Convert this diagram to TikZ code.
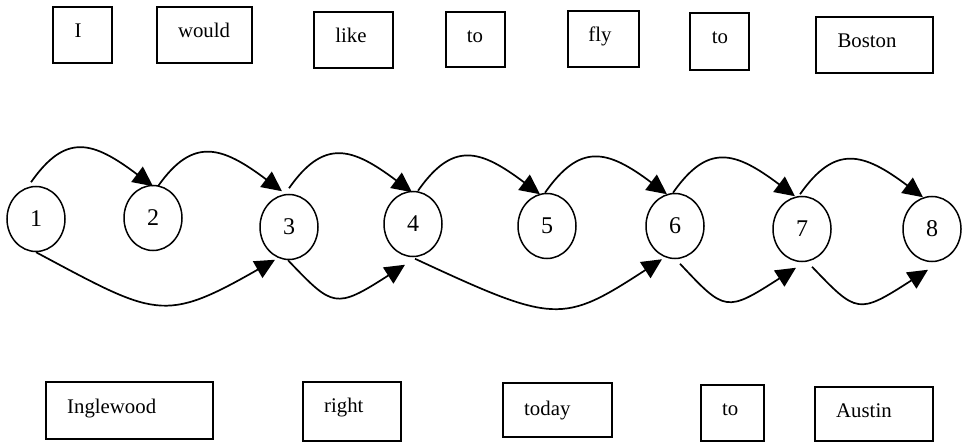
\documentclass[tikz,border=0pt]{standalone}
\usepackage{fontspec}
\setmainfont{Liberation Serif}
\usetikzlibrary{arrows.meta,shapes.geometric}
\begin{document}
\begin{tikzpicture}[x=1pt,y=1pt,
  wordbox/.style={draw,line width=1.7pt,rectangle,inner sep=0pt},
  wordtext/.style={inner sep=0pt,font=\fontsize{20.8}{25}\selectfont},
  state/.style={draw,line width=1.5pt,ellipse,inner sep=0pt,minimum width=58,minimum height=65,font=\fontsize{24}{28}\selectfont},
  edge/.style={line width=1.7pt,-{Triangle[length=20pt,width=19pt]}}]
\useasboundingbox (0,0) rectangle (963,442);
% top word boxes
\node[wordbox,minimum width=59,minimum height=56] (t1) at (82.5,407) {};
\node[wordtext,anchor=base] (tt1) at (78,404) {I};
\node[wordbox,minimum width=95,minimum height=56] (t2) at (204.5,407) {};
\node[wordtext,anchor=base] (tt2) at (204,404) {would};
\node[wordbox,minimum width=79,minimum height=56] (t3) at (353.5,402) {};
\node[wordtext,anchor=base] (tt3) at (351,399) {like};
\node[wordbox,minimum width=59,minimum height=55] (t4) at (475.5,402.5) {};
\node[wordtext,anchor=base] (tt4) at (475,399) {to};
\node[wordbox,minimum width=71,minimum height=56] (t5) at (603.5,403) {};
\node[wordtext,anchor=base] (tt5) at (600,400) {fly};
\node[wordbox,minimum width=59,minimum height=57] (t6) at (719.5,400.5) {};
\node[wordtext,anchor=base] (tt6) at (720,398) {to};
\node[wordbox,minimum width=117,minimum height=56] (t7) at (874.5,397) {};
\node[wordtext,anchor=base] (tt7) at (867,394) {Boston};
% bottom word boxes
\node[wordbox,minimum width=167,minimum height=57] (b1) at (129.5,31.5) {};
\node[wordtext,anchor=base west] (bb1) at (67,29) {Inglewood};
\node[wordbox,minimum width=98,minimum height=59] (b2) at (352,30.5) {};
\node[wordtext,anchor=base west] (bb2) at (324,30) {right};
\node[wordbox,minimum width=109,minimum height=54] (b3) at (557.5,32) {};
\node[wordtext,anchor=base west] (bb3) at (524,27) {today};
\node[wordbox,minimum width=63,minimum height=56] (b4) at (732.5,29) {};
\node[wordtext,anchor=base west] (bb4) at (722,27) {to};
\node[wordbox,minimum width=118,minimum height=54] (b5) at (874,28) {};
\node[wordtext,anchor=base west] (bb5) at (836,25) {Austin};
% states
\node[state] (n1) at (36,223) {1};
\node[state] (n2) at (153,224) {2};
\node[state] (n3) at (289,215) {3};
\node[state] (n4) at (413,218) {4};
\node[state] (n5) at (547,216) {5};
\node[state] (n6) at (675,216) {6};
\node[state] (n7) at (802,213) {7};
\node[state] (n8) at (932,213) {8};
% top arcs
\draw[edge] ([shift={(-5,3.5)}]n1.north) .. controls +(35,50) and +(-60,45) .. ([shift={(0,-1.5)}]n2.north);
\draw[edge] ([shift={(5,-1.5)}]n2.north) .. controls +(35,50) and +(-60,45) .. ([shift={(-7,2.5)}]n3.north);
\draw[edge] ([shift={(0,5.5)}]n3.north) .. controls +(35,50) and +(-60,45) .. ([shift={(-1,-1.5)}]n4.north);
\draw[edge] ([shift={(5,0)}]n4.north) .. controls +(35,50) and +(-60,45) .. ([shift={(-7,-1.5)}]n5.north);
\draw[edge] ([shift={(-2,0)}]n5.north) .. controls +(35,50) and +(-60,45) .. ([shift={(-8,-1.5)}]n6.north);
\draw[edge] ([shift={(-2,0)}]n6.north) .. controls +(35,50) and +(-60,45) .. ([shift={(-7,-0.5)}]n7.north);
\draw[edge] ([shift={(-2,1.5)}]n7.north) .. controls +(35,50) and +(-60,45) .. ([shift={(-9,-1.5)}]n8.north);
% bottom arcs
\draw[edge] (n1.south) .. controls +(120,-64) and +(-112,-64) .. ([shift={(-14,0.5)}]n3.south);
\draw[edge] ([shift={(-1,0)}]n3.south) .. controls +(45,-47) and +(-70,-45) .. ([shift={(-8,-7.5)}]n4.south);
\draw[edge] ([shift={(2,-1.5)}]n4.south) .. controls +(140,-65) and +(-100,-65) .. ([shift={(-13,0)}]n6.south);
\draw[edge] ([shift={(5,-4.5)}]n6.south) .. controls +(45,-48) and +(-70,-45) .. ([shift={(-6,-5.5)}]n7.south);
\draw[edge] ([shift={(10,-4.5)}]n7.south) .. controls +(45,-47) and +(-70,-45) .. ([shift={(-4,-7.5)}]n8.south);
\end{tikzpicture}
\end{document}
